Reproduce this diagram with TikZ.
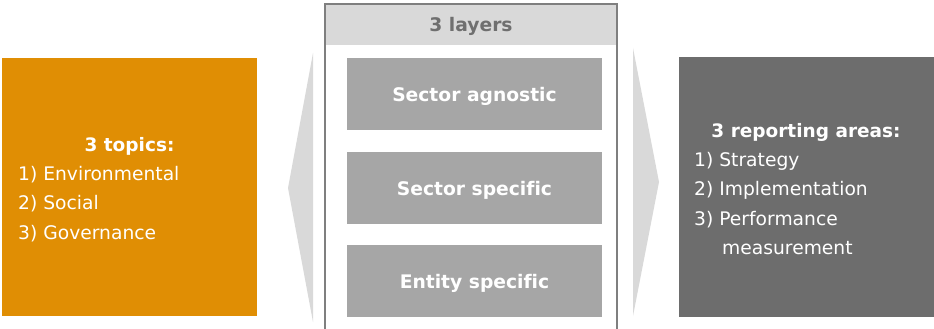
\documentclass[tikz,border=0pt]{standalone}
\usepackage{fontspec}
\setmainfont{DejaVu Sans}[Ligatures=NoCommon]
\definecolor{orangeC}{HTML}{E08E04}
\definecolor{darkC}{HTML}{6D6D6D}
\definecolor{layerC}{HTML}{A6A6A6}
\definecolor{lightC}{HTML}{D9D9D9}
\definecolor{frameC}{HTML}{7F7F7F}
\definecolor{headT}{HTML}{6F6F6F}
\tikzset{
  layerbox/.style={fill=layerC, draw=none, minimum width=255pt, minimum height=72pt, inner sep=0pt, text height=15pt, text depth=0pt, text=white, font=\fontsize{18.7}{20}\selectfont\bfseries},
  chev/.style={fill=lightC, draw=none},
  txt/.style={text=white, font=\fontsize{18.7}{20}\selectfont, anchor=base west, inner sep=0pt},
  ttl/.style={text=white, font=\fontsize{18.5}{20}\selectfont\bfseries, anchor=base, inner sep=0pt},
}
\begin{document}
\begin{tikzpicture}[x=1pt,y=-1pt]
\useasboundingbox (0,0) rectangle (934,329);
% left orange box
\node[fill=orangeC, minimum width=255pt, minimum height=258pt, inner sep=0pt, anchor=north west] (topics) at (2,58) {};
\node[ttl] (t0) at (129.5,151) {3 topics:};
\node[txt] (t1) at (18,180) {1) Environmental};
\node[txt] (t2) at (18,209.5) {2) Social};
\node[txt] (t3) at (18,239) {3) Governance};
% chevrons
\fill[chev] (313,53) -- (288,188) -- (313,322) -- cycle;
\fill[chev] (633,48) -- (659,182) -- (633,316) -- cycle;
% center frame
\fill[lightC] (325,4) rectangle (617,45);
\draw[frameC, line width=1.3pt] (325,331) -- (325,4) -- (617,4) -- (617,331);
\node[text=headT, font=\fontsize{18.7}{20}\selectfont\bfseries, anchor=base, inner sep=0pt] (head) at (471,32) {3 layers};
\node[layerbox] (l1) at (474.5,94) {Sector agnostic};
\node[layerbox] (l2) at (474.5,187.5) {Sector specific};
\node[layerbox] (l3) at (474.5,281) {Entity specific};
% right dark box
\node[fill=darkC, minimum width=256pt, minimum height=260pt, inner sep=0pt, anchor=north west] (areas) at (679,57) {};
\node[ttl] (r0) at (806,137) {3 reporting areas:};
\node[txt] (r1) at (694,166) {1) Strategy};
\node[txt] (r2) at (694,195.5) {2) Implementation};
\node[txt] (r3) at (694,225) {3) Performance};
\node[txt] (r4) at (722,254.5) {measurement};
\end{tikzpicture}
\end{document}
